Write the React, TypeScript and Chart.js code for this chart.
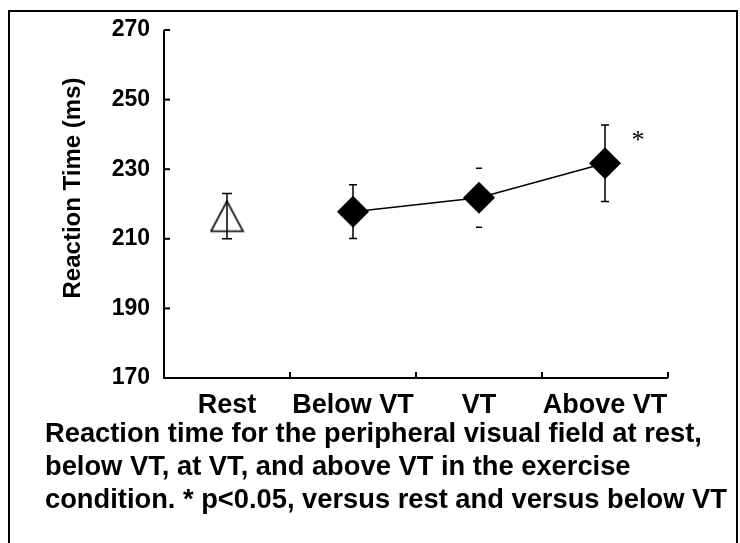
import React, { useEffect, useRef } from 'react';
import { Chart, registerables } from 'chart.js';

Chart.register(...registerables);

const categories = ['Rest', 'Below VT', 'VT', 'Above VT'];
const restMeans = [216.5, null, null, null];
const exerciseMeans = [null, 217.8, 221.8, 231.7];
const errorBars = [6.5, 7.7, 8.5, 11.0];
const showStem = [true, true, false, true];
const significance = ['', '', '', '*'];
const yTicks = [170, 190, 210, 230, 250, 270];
const axisTitle = 'Reaction Time (ms)';
const captionLines = [
  'Reaction time for the peripheral visual field at rest,',
  'below VT, at VT, and above VT in the exercise',
  'condition. * p<0.05, versus rest and versus below VT',
];

const FONT = '"Liberation Sans", Arial, sans-serif';

function makeTriangle(): HTMLCanvasElement {
  const c = document.createElement('canvas');
  c.width = 35;
  c.height = 33;
  const g = c.getContext('2d')!;
  g.strokeStyle = '#000';
  g.lineWidth = 1.6;
  g.beginPath();
  g.moveTo(17.5, 1.5);
  g.lineTo(1.5, 31.5);
  g.lineTo(33.5, 31.5);
  g.closePath();
  g.stroke();
  return c;
}

const customPlugin = {
  id: 'custom',
  afterDatasetsDraw(chart: any) {
    const { ctx, chartArea, scales } = chart;
    const xs = scales.x;
    const ys = scales.y;
    ctx.save();
    ctx.strokeStyle = '#000';
    ctx.fillStyle = '#000';
    // axes
    ctx.lineWidth = 2;
    ctx.beginPath();
    ctx.moveTo(chartArea.left, chartArea.top);
    ctx.lineTo(chartArea.left, chartArea.bottom);
    ctx.lineTo(chartArea.right, chartArea.bottom);
    ctx.stroke();
    // y ticks inward
    yTicks.forEach((v) => {
      if (v === yTicks[0]) return;
      const y = ys.getPixelForValue(v);
      ctx.beginPath();
      ctx.moveTo(chartArea.left, y);
      ctx.lineTo(chartArea.left + 6, y);
      ctx.stroke();
    });
    // x ticks at category boundaries (upward)
    const half = (xs.getPixelForValue(1) - xs.getPixelForValue(0)) / 2;
    for (let i = 0; i < categories.length; i++) {
      const bx = xs.getPixelForValue(i) + half;
      ctx.beginPath();
      ctx.moveTo(bx, chartArea.bottom);
      ctx.lineTo(bx, chartArea.bottom - 6);
      ctx.stroke();
    }
    // error bars
    ctx.lineWidth = 1.5;
    for (let i = 0; i < categories.length; i++) {
      const m = restMeans[i] ?? exerciseMeans[i];
      if (m == null) continue;
      const x = xs.getPixelForValue(i);
      const yt = ys.getPixelForValue(m + errorBars[i]);
      const yb = ys.getPixelForValue(m - errorBars[i]);
      const cap = i === 0 ? 5 : showStem[i] ? 4 : 3;
      ctx.beginPath();
      if (showStem[i]) {
        ctx.moveTo(x, yt);
        ctx.lineTo(x, yb);
      }
      ctx.moveTo(x - cap, yt);
      ctx.lineTo(x + cap, yt);
      ctx.moveTo(x - cap, yb);
      ctx.lineTo(x + cap, yb);
      ctx.stroke();
      if (significance[i]) {
        ctx.font = '26px "Liberation Serif", serif';
        ctx.textAlign = 'center';
        ctx.textBaseline = 'middle';
        ctx.fillText(significance[i], x + 33, yt + 16);
      }
    }
    // y axis title
    ctx.translate(73, 188);
    ctx.rotate(-Math.PI / 2);
    ctx.font = 'bold 24px ' + FONT;
    ctx.textAlign = 'center';
    ctx.textBaseline = 'middle';
    ctx.fillText(axisTitle, 0, 0);
    ctx.restore();
  },
};

export default function App() {
  const ref = useRef<HTMLCanvasElement>(null);
  useEffect(() => {
    if (!ref.current) return;
    const tri = makeTriangle();
    const chart = new Chart(ref.current, {
      type: 'line',
      data: {
        labels: categories,
        datasets: [
          {
            data: restMeans as any,
            pointStyle: tri as any,
            pointRadius: 17,
            showLine: false,
            borderColor: '#000',
            backgroundColor: 'transparent',
          },
          {
            data: exerciseMeans as any,
            pointStyle: 'rectRot',
            pointRadius: 16,
            pointBorderWidth: 0,
            pointBackgroundColor: '#000',
            pointBorderColor: '#000',
            borderColor: '#000',
            borderWidth: 1.5,
            tension: 0,
          },
        ],
      },
      options: {
        animation: false,
        responsive: false,
        maintainAspectRatio: false,
        layout: { padding: { left: 0, top: 30, right: 72, bottom: 0 } },
        plugins: { legend: { display: false }, tooltip: { enabled: false } },
        scales: {
          x: {
            type: 'category',
            offset: true,
            grid: { display: false, drawTicks: false },
            border: { display: false },
            ticks: {
              color: '#000',
              padding: 11,
              autoSkip: false,
              maxRotation: 0,
              minRotation: 0,
              font: { family: FONT, size: 27, weight: 'bold' },
            },
            afterFit: (s: any) => {
              s.height = 165;
            },
          },
          y: {
            min: 170,
            max: 270,
            grid: { display: false, drawTicks: false },
            border: { display: false },
            afterBuildTicks: (s: any) => {
              s.ticks = yTicks.map((v) => ({ value: v }));
            },
            ticks: {
              color: '#000',
              padding: 14,
              font: { family: FONT, size: 23, weight: 'bold' },
            },
            afterFit: (s: any) => {
              s.width = 164;
            },
          },
        },
      },
      plugins: [customPlugin],
    });
    return () => chart.destroy();
  }, []);

  return (
    <div style={{ position: 'absolute', left: 0, top: 0, width: 740, height: 543, overflow: 'hidden', background: '#fff' }}>
      <div
        style={{
          position: 'absolute',
          left: 8,
          top: 10,
          width: 730,
          height: 540,
          boxSizing: 'border-box',
          border: '2px solid #000',
          borderBottom: 'none',
        }}
      />
      <canvas ref={ref} width={740} height={543} style={{ position: 'absolute', left: 0, top: 0, width: 740, height: 543 }} />
      <div
        style={{
          position: 'absolute',
          left: 45,
          top: 416,
          font: 'bold 27.3px ' + FONT,
          lineHeight: '33px',
          color: '#000',
          whiteSpace: 'nowrap',
        }}
      >
        {captionLines.map((l, i) => (
          <div key={i}>{l}</div>
        ))}
      </div>
    </div>
  );
}
